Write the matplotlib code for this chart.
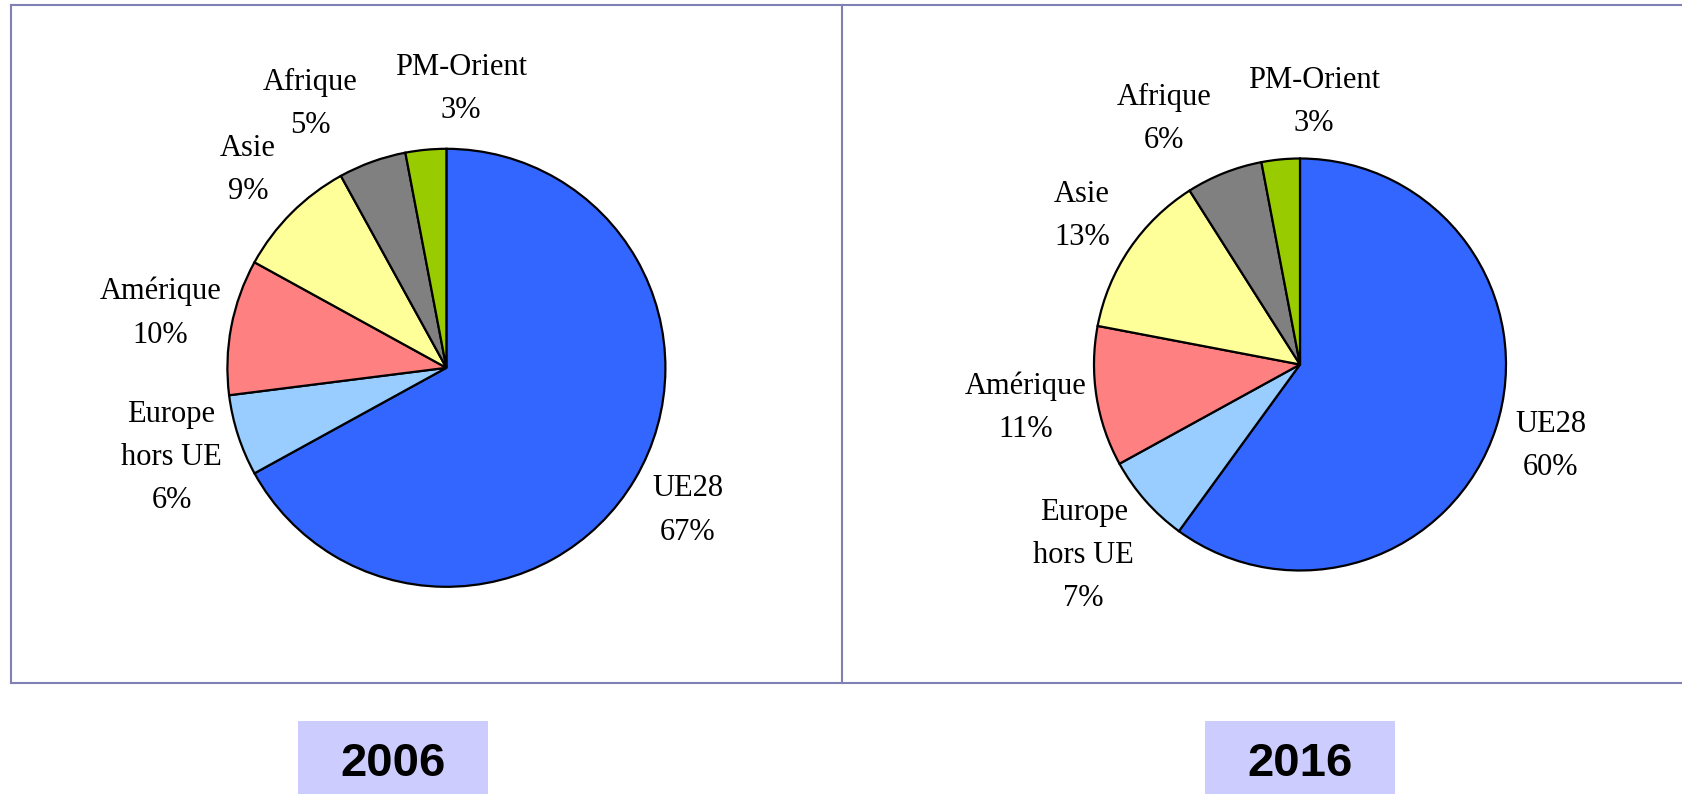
import numpy as np
import matplotlib.pyplot as plt
from matplotlib.patches import Rectangle
from matplotlib.lines import Line2D

# ------------------------------------------------------------
# Données (parts en %)
# ------------------------------------------------------------
regions = ["UE28", "Europe\nhors UE", "Amérique", "Asie", "Afrique", "PM-Orient"]
shares_2006 = [67, 6, 10, 9, 5, 3]
shares_2016 = [60, 7, 11, 13, 6, 3]
years = ["2006", "2016"]

colors = ["#3366FF", "#99CCFF", "#FF8080", "#FFFF99", "#808080", "#99CC00"]

# ------------------------------------------------------------
# Mise en page (pixels, origine en haut à gauche)
# ------------------------------------------------------------
W, H = 1683, 794
DPI = 100
pie_centers = [(446.4, 367.8), (1300.0, 364.5)]
pie_radius = [219.0, 206.0]
half = 1.6  # demi-taille de l'axe en rayons

fig = plt.figure(figsize=(W / DPI, H / DPI), dpi=DPI)
fig.patch.set_facecolor("white")


def px_rect(x0, y0, x1, y1):
    # rectangle en pixels (haut-gauche) -> fraction de figure
    return [x0 / W, 1 - y1 / H, (x1 - x0) / W, (y1 - y0) / H]


def data_bbox(t, ax, renderer):
    return t.get_window_extent(renderer).transformed(ax.transData.inverted())


def place_labels(ax, wedges, texts, r_px):
    # pousse les étiquettes hors du disque puis les écarte entre elles,
    # à la manière d'Excel
    fig.canvas.draw()
    renderer = fig.canvas.get_renderer()
    for t, w in zip(texts, wedges):
        theta = np.deg2rad((w.theta1 + w.theta2) / 2)
        for _ in range(60):
            bb = data_bbox(t, ax, renderer)
            nx = np.clip(0, bb.x0, bb.x1)
            ny = np.clip(0, bb.y0, bb.y1)
            if np.hypot(nx, ny) >= 1.03:
                break
            x, y = t.get_position()
            t.set_position((x + 0.01 * np.cos(theta), y + 0.01 * np.sin(theta)))

    min_gap = 37 / r_px
    min_overlap = 15 / r_px
    for _ in range(20):
        moved = False
        for i in range(len(texts)):
            for j in range(i + 1, len(texts)):
                bi = data_bbox(texts[i], ax, renderer)
                bj = data_bbox(texts[j], ax, renderer)
                overlap = min(bi.y1, bj.y1) - max(bi.y0, bj.y0)
                if overlap < min_overlap:
                    continue
                a, b = (texts[i], texts[j]) if bi.x0 + bi.x1 < bj.x0 + bj.x1 else (texts[j], texts[i])
                ba, bb = data_bbox(a, ax, renderer), data_bbox(b, ax, renderer)
                gap = bb.x0 - ba.x1
                if gap < min_gap:
                    d = (min_gap - gap) / 2
                    xa, ya = a.get_position()
                    xb, yb = b.get_position()
                    a.set_position((xa - d, ya))
                    b.set_position((xb + d, yb))
                    moved = True
        if not moved:
            break


# cadres des deux graphiques
frame_color = "#8080B4"
top, bottom, left, mid = 5.3, 682.7, 11.0, 842.3
for xs, ys in [
    ([left, left], [top, bottom]),
    ([left, W], [top, top]),
    ([left, W], [bottom, bottom]),
    ([mid, mid], [top, bottom]),
]:
    fig.add_artist(Line2D([x / W for x in xs], [1 - y / H for y in ys],
                          color=frame_color, linewidth=1.5))

for (cx, cy), r, shares in zip(pie_centers, pie_radius, [shares_2006, shares_2016]):
    ax = fig.add_axes(px_rect(cx - half * r, cy - half * r, cx + half * r, cy + half * r))
    labels = [f"{name}\n{v}%" for name, v in zip(regions, shares)]
    wedges, texts = ax.pie(
        shares,
        labels=labels,
        colors=colors,
        startangle=90,
        counterclock=False,
        radius=1.0,
        labeldistance=1.28,
        wedgeprops=dict(edgecolor="black", linewidth=1.6),
        textprops=dict(family="Liberation Serif", fontsize=22, color="black",
                       ha="center", va="center", multialignment="center",
                       linespacing=1.64),
    )
    ax.set_xlim(-half, half)
    ax.set_ylim(-half, half)
    ax.set_aspect("equal")
    ax.axis("off")
    place_labels(ax, wedges, texts, r)

# étiquettes des années
box_x = [(298, 488), (1205, 1395)]
for (x0, x1), year in zip(box_x, years):
    fig.add_artist(Rectangle((x0 / W, 0), (x1 - x0) / W, (H - 721) / H,
                             transform=fig.transFigure, facecolor="#CCCCFF",
                             edgecolor="none"))
    fig.text((x0 + x1) / 2 / W, 1 - 776 / H, year, ha="center", va="baseline",
             family="Liberation Sans", fontweight="bold", fontsize=34)

fig.savefig("out.png", dpi=DPI)
